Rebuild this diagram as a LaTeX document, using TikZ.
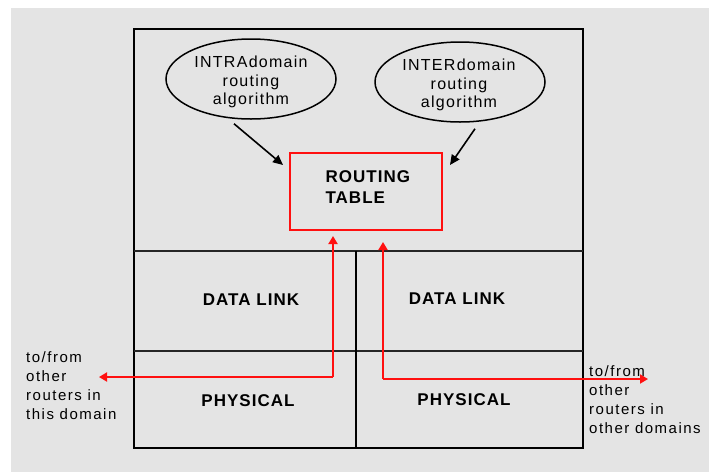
\documentclass[tikz,border=0pt]{standalone}
\usepackage{fontspec}
\setmainfont{Liberation Sans}
\newfontfamily\labelfont[LetterSpace=10]{Liberation Sans}
\newfontfamily\algofont[LetterSpace=8]{Liberation Sans}
\newfontfamily\layerfont[LetterSpace=6]{Liberation Sans}
\usetikzlibrary{arrows.meta,shapes.geometric}
\definecolor{bg}{HTML}{E4E4E4}
\definecolor{rtred}{HTML}{FF1010}
\tikzset{
  frame/.style={draw=black,line width=2.4pt},
  divider/.style={draw=black!85,line width=1.5pt},
  algo/.style={draw=black,ellipse,line width=1.5pt,minimum width=170pt,minimum height=80pt,inner sep=0pt},
  algotext/.style={align=center,inner sep=0pt,font=\algofont\fontsize{16}{18.5}\selectfont},
  layer/.style={font=\layerfont\bfseries\fontsize{17}{21}\selectfont},
  sidelabel/.style={align=left,inner sep=0pt,font=\labelfont\fontsize{15}{19}\selectfont},
  feed/.style={draw=black,line width=1.6pt,-{Triangle[length=10pt,width=9pt]}},
  redpath/.style={draw=rtred,line width=1.8pt,-{Triangle[length=8pt,width=9pt]}},
}
\begin{document}
\begin{tikzpicture}[x=1pt,y=-1pt]
\useasboundingbox (0,0) rectangle (709,472);
\fill[white] (0,0) rectangle (709,472);
\fill[bg] (11,8) rectangle (709,472);

% router frame and layer divisions
\draw[frame] (134,29) rectangle (583,448);
\draw[divider] (134,251) -- (583,251);
\draw[divider] (134,351) -- (583,351);
\draw[draw=black,line width=2.8pt] (356,251) -- (356,448);

% routing algorithms
\node[algo] (intra) at (251,79) {};
\node[algo] (inter) at (460,82) {};
\node[algotext] (intratext) at (251,82) {INTRAdomain\\routing\\algorithm};
\node[algotext] (intertext) at (459,85) {INTERdomain\\routing\\algorithm};

% routing table
\node[draw=rtred,line width=2.4pt,minimum width=152pt,minimum height=77pt,inner sep=0pt] (table) at (366,191.5) {};
\node[layer,align=left,anchor=west] (tabletext) at (322,187) {ROUTING\\TABLE};

\coordinate (intraEnd) at (283,165);
\coordinate (interEnd) at (450,165);
\draw[feed] (intra.south) ++(-17,4) coordinate (intraStart) -- (intraEnd);
\draw[feed] (inter.south) ++(15,6) coordinate (interStart) -- (interEnd);

% layer labels
\node[layer] (dlL) at (251,300) {DATA LINK};
\node[layer] (dlR) at (457,299) {DATA LINK};
\node[layer] (phL) at (248,401) {PHYSICAL};
\node[layer] (phR) at (464,400) {PHYSICAL};

% paths to and from neighbouring routers
\node[sidelabel,anchor=north west] (thisdom) at (26,351) {to/from\\other\\routers in\\this domain};
\node[sidelabel,anchor=north west] (otherdom) at (589,365) {to/from\\other\\routers in\\other domains};

\coordinate (leftTip) at (99,377);
\coordinate (leftCorner) at (333,377);
\coordinate (leftTop) at (333,236);
\coordinate (rightTip) at (648,379);
\coordinate (rightCorner) at (383,379);
\coordinate (rightTop) at (383,242);
\draw[redpath] (leftCorner) -- (leftTip);
\draw[redpath] (leftCorner) -- (leftTop);
\draw[redpath] (rightCorner) -- (rightTip);
\draw[redpath] (rightCorner) -- (rightTop);
\end{tikzpicture}
\end{document}
